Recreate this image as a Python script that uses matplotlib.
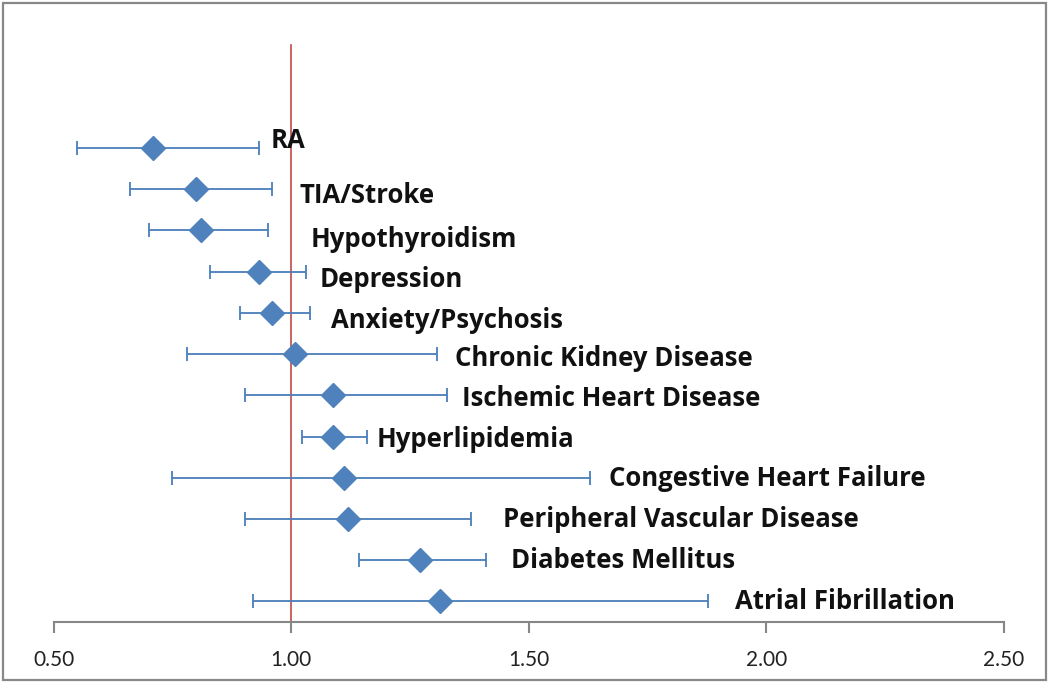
import matplotlib
matplotlib.use("Agg")
import matplotlib.pyplot as plt
from matplotlib.patches import Rectangle

# ---- data ----
conditions = ["RA", "TIA/Stroke", "Hypothyroidism", "Depression", "Anxiety/Psychosis",
              "Chronic Kidney Disease", "Ischemic Heart Disease", "Hyperlipidemia",
              "Congestive Heart Failure", "Peripheral Vascular Disease",
              "Diabetes Mellitus", "Atrial Fibrillation"]
estimate = [0.708, 0.799, 0.811, 0.932, 0.960, 1.007, 1.087, 1.087, 1.111, 1.120, 1.270, 1.312]
ci_low   = [0.549, 0.661, 0.701, 0.830, 0.892, 0.781, 0.902, 1.022, 0.750, 0.902, 1.142, 0.920]
ci_high  = [0.933, 0.959, 0.950, 1.030, 1.040, 1.307, 1.328, 1.159, 1.629, 1.378, 1.410, 1.878]
row_y    = [11.5, 10.5, 9.5, 8.5, 7.5, 6.5, 5.5, 4.5, 3.5, 2.5, 1.5, 0.5]
xticks = [0.50, 1.00, 1.50, 2.00, 2.50]
xtick_labels = ["0.50", "1.00", "1.50", "2.00", "2.50"]

# label placement (data coords, baseline)
label_x = [0.957, 1.018, 1.041, 1.060, 1.084, 1.344, 1.359, 1.180, 1.668, 1.445, 1.462, 1.934]
label_y = [11.50, 10.17, 9.10, 8.13, 7.14, 6.21, 5.24, 4.25, 3.30, 2.31, 1.31, 0.32]

blue = "#4F81BD"
bar_blue = "#4A7EBB"
red = "#BE4B48"

fig = plt.figure(figsize=(10.5, 6.94), dpi=100)
ax = fig.add_axes([53.7 / 1050, 1 - 622 / 694, (1004 - 53.7) / 1050, (622 - 45) / 694])

ax.plot([1.0, 1.0], [0, 14], color=red, lw=1.2, zorder=1, clip_on=False)

xerr = [[e - l for e, l in zip(estimate, ci_low)], [h - e for e, h in zip(estimate, ci_high)]]
ax.errorbar(estimate, row_y, xerr=xerr, fmt="none", ecolor=bar_blue, elinewidth=1.3,
            capsize=5, capthick=1.3, zorder=2)
ax.plot(estimate, row_y, linestyle="none", marker="D", markersize=12,
        color=blue, markeredgecolor=blue, zorder=3)

for name, lx, ly in zip(conditions, label_x, label_y):
    ax.text(lx, ly, name, fontsize=18.5, fontweight="bold", family="Open Sans",
            color="#111111", va="baseline", ha="left")

ax.set_xlim(0.5, 2.5)
ax.set_ylim(0, 14)
ax.set_xticks(xticks)
ax.set_xticklabels(xtick_labels, family="Lato", fontsize=15, color="#222222")
ax.set_yticks([])
for s in ["top", "right", "left"]:
    ax.spines[s].set_visible(False)
ax.spines["bottom"].set_color("#868686")
ax.spines["bottom"].set_linewidth(1.5)
ax.tick_params(axis="x", direction="out", length=8, width=1.5, color="#868686", pad=12)
ax.set_facecolor("none")

fig.patches.append(Rectangle((3 / 1050, 1 - 680 / 694), (1046 - 3) / 1050, (680 - 3) / 694,
                             transform=fig.transFigure, fill=False, edgecolor="#888888",
                             linewidth=1.6, zorder=0))

fig.savefig("out.png", dpi=100)
